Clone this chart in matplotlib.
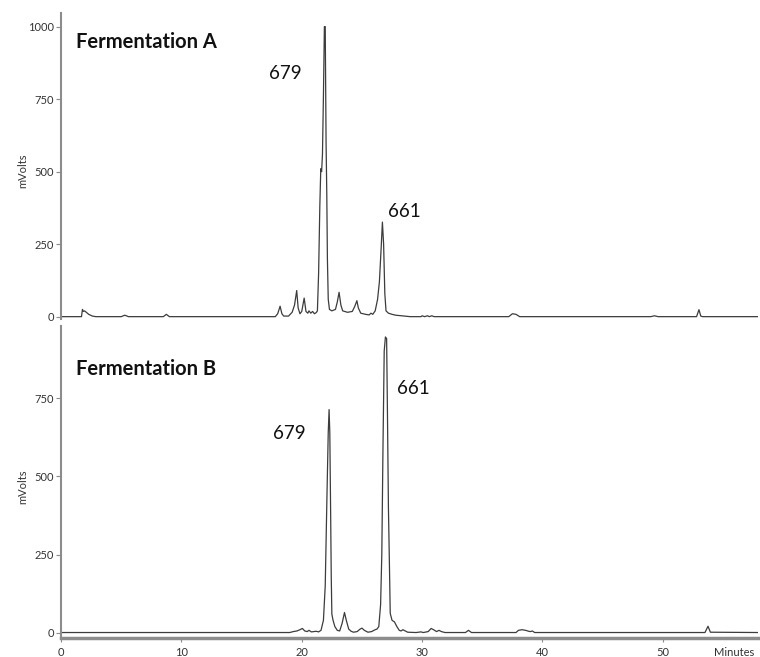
#!/usr/bin/env python3
import numpy as np
import matplotlib
matplotlib.use("Agg")
import matplotlib.pyplot as plt

#======================================================================#
## chromatogram traces (time [min], signal [mV])
t_a = [0, 1.7, 1.78, 1.85, 1.95, 2.1, 2.3, 2.6, 2.9,
       5.0, 5.3, 5.6, 8.5, 8.75, 9.0,
       17.8, 18.0, 18.2, 18.35, 18.5, 18.9, 19.2, 19.4, 19.58, 19.7, 19.85,
       20.0, 20.2, 20.35, 20.5, 20.6, 20.75, 20.9, 21.05, 21.2, 21.3, 21.4,
       21.5, 21.58, 21.65, 21.72, 21.8, 21.88, 21.95, 22.02, 22.08, 22.13,
       22.2, 22.3, 22.5, 22.8, 22.95, 23.1, 23.25, 23.4, 23.8, 24.2, 24.4,
       24.58, 24.7, 24.9, 25.3, 25.6, 25.75, 25.9, 26.1, 26.3, 26.45, 26.6,
       26.7, 26.8, 26.9, 27.0, 27.2, 27.5, 27.8, 28.3, 29.0,
       29.9, 30.0, 30.2, 30.45, 30.6, 30.8, 31.0,
       37.2, 37.5, 37.8, 38.1, 49.0, 49.3, 49.6,
       52.8, 53.0, 53.15, 53.3, 57.9]
mv_a = [0, 0, 25, 18, 20, 15, 8, 2, 0,
        0, 5, 0, 0, 8, 0,
        0, 10, 36, 10, 2, 2, 15, 40, 90, 30, 10,
        18, 64, 18, 12, 20, 12, 18, 10, 14, 20, 150,
        380, 510, 500, 560, 760, 1000, 1000, 600, 420, 200,
        60, 25, 20, 25, 50, 84, 40, 20, 15, 18, 35,
        55, 30, 12, 8, 6, 12, 8, 20, 60, 120, 240,
        326, 250, 80, 20, 12, 8, 5, 3, 0,
        0, 3, 0, 3, 0, 3, 0,
        0, 10, 8, 0, 0, 3, 0,
        0, 24, 2, 0, 0]

t_b = [0, 19.0, 19.3, 19.6, 19.85, 20.05, 20.25, 20.45, 20.6, 20.8, 21.0,
       21.2, 21.4, 21.6, 21.8, 21.95, 22.1, 22.2, 22.27, 22.33, 22.4, 22.45,
       22.5, 22.6, 22.75, 22.95, 23.15, 23.35, 23.55, 23.7, 23.9, 24.1, 24.3,
       24.6, 24.85, 25.0, 25.2, 25.5, 25.8, 26.1, 26.25, 26.4, 26.55, 26.65,
       26.75, 26.85, 26.95, 27.05, 27.12, 27.2, 27.3, 27.35, 27.5, 27.7,
       27.9, 28.1, 28.25, 28.4, 28.6, 28.8, 29.5, 29.9, 30.1, 30.5, 30.75,
       30.95, 31.2, 31.4, 31.6, 31.9, 33.6, 33.85, 34.1, 37.8, 38.0, 38.3,
       38.6, 38.85, 39.0, 39.15, 39.35, 53.5, 53.75, 53.95, 57.9]
mv_b = [1, 1, 4, 6, 10, 14, 6, 4, 8, 3, 4,
        5, 3, 8, 40, 150, 450, 640, 713, 640, 380, 180,
        60, 40, 20, 8, 6, 30, 65, 40, 12, 5, 2,
        4, 12, 15, 8, 2, 4, 10, 12, 20, 90, 250,
        600, 900, 945, 940, 700, 400, 180, 62, 40, 35,
        20, 8, 6, 10, 6, 2, 1, 3, 1, 4, 14,
        10, 4, 8, 4, 1, 1, 8, 1, 1, 8, 10,
        8, 5, 4, 6, 1, 1, 21, 2, 1]

yticks_a = [0, 250, 500, 750, 1000]
yticks_b = [0, 250, 500, 750]
xticks = [0, 10, 20, 30, 40, 50]

#======================================================================#
## plot parameters
trace_c = '#3c3c3c'
axis_c = '#8c8c8c'
text_c = '#333333'
font = 'Lato'


def style_axis(ax, yticks):
    for s in ['top', 'right']:
        ax.spines[s].set_visible(False)
    ax.spines['left'].set_color(axis_c)
    ax.spines['left'].set_linewidth(1.5)
    ax.set_yticks(yticks)
    ax.set_yticklabels([str(v) for v in yticks], family=font, fontsize=8, color=text_c)
    ax.tick_params(axis='y', length=3.5, width=0.8, color=axis_c, pad=1.5)
    ax.set_ylabel('mVolts', family=font, fontsize=8, color=text_c)
    ax.yaxis.set_label_coords(-0.047, 0.485)


def chromatograms():
    fig = plt.figure(figsize=(7.6, 6.57), dpi=100)
    ax1 = fig.add_axes([0.0803, 0.5145, 0.917, 0.4653])
    ax2 = fig.add_axes([0.0803, 0.0282, 0.917, 0.4756])

    # Fermentation A
    ax1.plot(t_a, mv_a, color=trace_c, linewidth=0.9)
    ax1.set_xlim(0, 57.9)
    ax1.set_ylim(-8, 1046)
    style_axis(ax1, yticks_a)
    ax1.spines['bottom'].set_visible(False)
    ax1.set_xticks([])
    ax1.text(1.25, 947, 'Fermentation A', family=font, fontweight='bold',
             fontsize=14.5, va='center', ha='left', color='#111111')
    ax1.text(17.3, 840, '679', family=font, fontsize=13.5, va='center', ha='left', color='#111111')
    ax1.text(27.15, 364, '661', family=font, fontsize=13.5, va='center', ha='left', color='#111111')

    # Fermentation B
    ax2.plot(t_b, mv_b, color=trace_c, linewidth=0.9)
    ax2.set_xlim(0, 57.9)
    ax2.set_ylim(-18, 980)
    style_axis(ax2, yticks_b)
    ax2.spines['bottom'].set_color(axis_c)
    ax2.spines['bottom'].set_linewidth(2.5)
    ax2.set_xticks(xticks)
    ax2.set_xticklabels([str(v) for v in xticks], family=font, fontsize=8, color=text_c)
    ax2.tick_params(axis='x', length=3, width=0.8, color=axis_c, pad=3)
    ax2.text(1.25, 842, 'Fermentation B', family=font, fontweight='bold',
             fontsize=14.5, va='center', ha='left', color='#111111')
    ax2.text(17.6, 636, '679', family=font, fontsize=13.5, va='center', ha='left', color='#111111')
    ax2.text(27.9, 780, '661', family=font, fontsize=13.5, va='center', ha='left', color='#111111')
    ax2.text(0.9656, -0.046, 'Minutes', transform=ax2.transAxes, family=font,
             fontsize=8, va='center', ha='center', color=text_c)

    fig.savefig('out.png', dpi=100)


def main():
    chromatograms()


if __name__ == '__main__':
    main()
